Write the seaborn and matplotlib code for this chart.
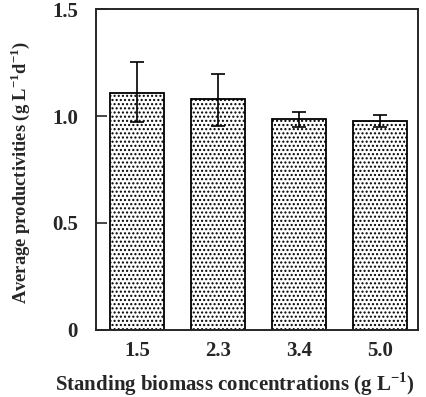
import matplotlib
matplotlib.use("Agg")
import matplotlib.pyplot as plt
import seaborn as sns
import pandas as pd

categories = ["1.5", "2.3", "3.4", "5.0"]
values = [1.106, 1.079, 0.985, 0.975]
err_upper = [0.145, 0.118, 0.035, 0.030]
err_lower = [0.136, 0.124, 0.035, 0.025]
yticks = [0, 0.5, 1.0, 1.5]
yticklabels = ["0", "0.5", "1.0", "1.5"]

sns.set_style("ticks")
plt.rcParams['font.family'] = ['Liberation Serif', 'DejaVu Serif']
plt.rcParams['mathtext.fontset'] = 'custom'
plt.rcParams['mathtext.rm'] = 'Liberation Serif:bold'
plt.rcParams['mathtext.bf'] = 'Liberation Serif:bold'
plt.rcParams['hatch.linewidth'] = 1.0
plt.rcParams['hatch.color'] = '#444444'

df = pd.DataFrame({"cat": categories, "val": values})

fig = plt.figure(figsize=(4.27, 3.97), dpi=100)
ax = fig.add_axes([0.225, 0.169, 0.754, 0.808])
sns.barplot(data=df, x="cat", y="val", color="white", edgecolor="black",
            linewidth=1.3, width=0.67, errorbar=None, ax=ax, saturation=1)
for p in ax.patches:
    p.set_hatch("....")
    p.set_facecolor("white")
    p.set_edgecolor("black")

ax.errorbar(range(len(categories)), values, yerr=[err_lower, err_upper],
            fmt="none", ecolor="black", elinewidth=1.2, capsize=5, capthick=1.2)

ax.set_xlim(-0.505, 3.47)
ax.set_ylim(0, 1.5)
ax.set_yticks(yticks)
ax.set_yticklabels(yticklabels)
ax.tick_params(axis="y", direction="in", length=8, width=1.2, labelsize=15, pad=13)
ax.tick_params(axis="x", length=0, labelsize=15, pad=8)
for lab in ax.get_xticklabels() + ax.get_yticklabels():
    lab.set_fontweight("bold")
for s in ax.spines.values():
    s.set_linewidth(1.4)
    s.set_visible(True)

ax.set_xlabel("Standing biomass concentrations (g L$^{-1}$)", fontsize=15,
              fontweight="bold")
ax.xaxis.set_label_coords(0.43, -0.125)
ax.set_ylabel("Average productivities (g L$^{-1}$d$^{-1}$)", fontsize=13.3,
              fontweight="bold")
ax.yaxis.set_label_coords(-0.2, 0.49)

fig.savefig("out.png", dpi=100)
